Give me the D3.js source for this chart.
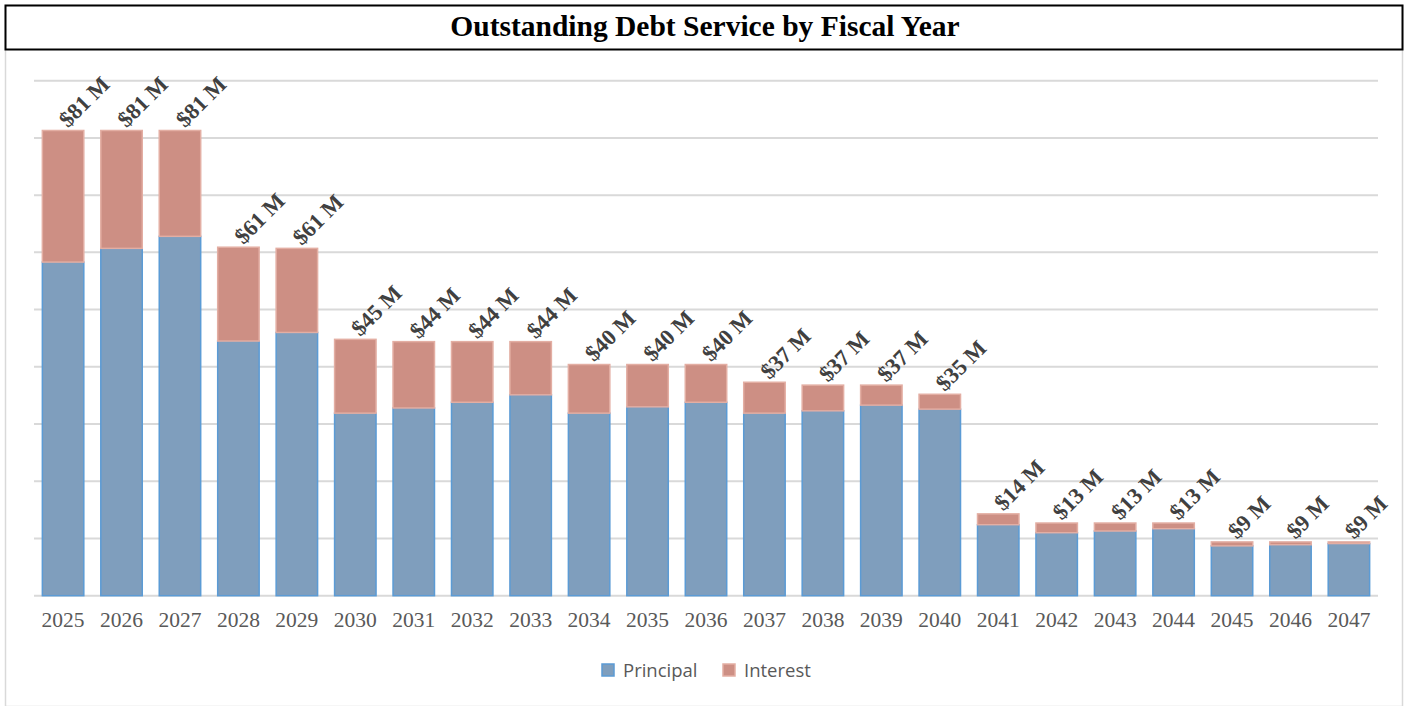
<!DOCTYPE html>
<html>
<head>
<meta charset="utf-8">
<script src="https://cdn.jsdelivr.net/npm/d3@7"></script>
<style>
  html, body { margin: 0; padding: 0; background: #fff; }
  svg { display: block; }
</style>
</head>
<body>
<svg id="chart" width="1408" height="706"></svg>
<script>
// Debt service by fiscal year, in millions of dollars
const years = ["2025","2026","2027","2028","2029","2030","2031","2032","2033","2034","2035","2036",
               "2037","2038","2039","2040","2041","2042","2043","2044","2045","2046","2047"];
const principal = [58.3, 60.7, 62.8, 44.5, 46.0, 31.9, 32.8, 33.8, 35.1, 31.9, 33.0, 33.8,
                   31.9, 32.3, 33.3, 32.6, 12.4, 11.0, 11.3, 11.7, 8.7, 8.9, 9.1];
const interest  = [23.0, 20.6, 18.5, 16.4, 14.7, 12.9, 11.6, 10.6, 9.3, 8.5, 7.4, 6.6,
                   5.4, 4.5, 3.5, 2.6, 1.9, 1.7, 1.4, 1.0, 0.7, 0.5, 0.3];
const yTicks = [0, 10, 20, 30, 40, 50, 60, 70, 80, 90];
const seriesNames = ["Principal", "Interest"];

const svg = d3.select("#chart");
const W = 1408, H = 706;
const serif = "'Liberation Serif', 'Times New Roman', serif";

// outer frame
svg.append("rect").attr("x", 5.5).attr("y", 5.5).attr("width", W - 11).attr("height", H - 5)
  .attr("fill", "#fff").attr("stroke", "#d9d9d9").attr("stroke-width", 1.5);

// title box
svg.append("rect").attr("x", 5.5).attr("y", 5.5).attr("width", W - 11).attr("height", 44)
  .attr("fill", "#fff").attr("stroke", "#000").attr("stroke-width", 2);
svg.append("text").attr("x", W / 2 + 1).attr("y", 36).attr("text-anchor", "middle")
  .attr("font-family", serif)
  .attr("font-weight", "bold").attr("font-size", 29.5).attr("fill", "#000")
  .text("Outstanding Debt Service by Fiscal Year");

const margin = { left: 34, right: 30 };
const x = d3.scaleBand().domain(years).range([margin.left, W - margin.right]).paddingInner(0.265).paddingOuter(0.13);
const y = d3.scaleLinear().domain([0, 90]).range([595.7, 80.7]);

// gridlines
svg.append("g").selectAll("line").data(yTicks).join("line")
  .attr("x1", margin.left).attr("x2", W - margin.right)
  .attr("y1", d => y(d)).attr("y2", d => y(d))
  .attr("stroke", "#d9d9d9").attr("stroke-width", 2);

const rows = years.map((yr, i) => ({ year: yr, Principal: principal[i], Interest: interest[i] }));
const stacked = d3.stack().keys(seriesNames)(rows);
const fills = { Principal: "#7f9ebd", Interest: "#cd8f84" };
const strokes = { Principal: "#5b9bd5", Interest: "#e3aea3" };

stacked.forEach(layer => {
  svg.append("g").selectAll("rect").data(layer).join("rect")
    .attr("x", d => x(d.data.year) + 0.75)
    .attr("width", x.bandwidth() - 1.5)
    .attr("y", d => y(d[1]))
    .attr("height", d => y(d[0]) - y(d[1]))
    .attr("fill", fills[layer.key])
    .attr("stroke", strokes[layer.key]).attr("stroke-width", 1.5);
});

// total labels, rotated
svg.append("g").selectAll("text").data(rows).join("text")
  .attr("transform", d => `translate(${x(d.year) + x.bandwidth() / 2 + 5},${y(d.Principal + d.Interest) - 2}) rotate(-45)`)
  .attr("font-family", serif)
  .attr("font-weight", "bold").attr("font-size", 22.5).attr("fill", "#404040")
  .text(d => `$${Math.round(d.Principal + d.Interest)} M`);

// x axis labels
const xAxis = svg.append("g").attr("transform", "translate(0,596)")
  .call(d3.axisBottom(x).tickSize(0).tickPadding(16));
xAxis.select(".domain").remove();
xAxis.selectAll("text")
  .attr("font-family", serif)
  .attr("font-size", 21.5).attr("fill", "#595959");

// legend
const legend = svg.append("g").attr("font-family", "'Open Sans', 'Noto Sans', sans-serif")
  .attr("font-size", 18.5).attr("fill", "#595959");
const legendX = [602, 723];
seriesNames.forEach((name, i) => {
  legend.append("rect").attr("x", legendX[i]).attr("y", 664).attr("width", 12).attr("height", 12)
    .attr("fill", fills[name]).attr("stroke", strokes[name]).attr("stroke-width", 1.5);
  legend.append("text").attr("x", legendX[i] + 21).attr("y", 677).text(name);
});
</script>
</body>
</html>
